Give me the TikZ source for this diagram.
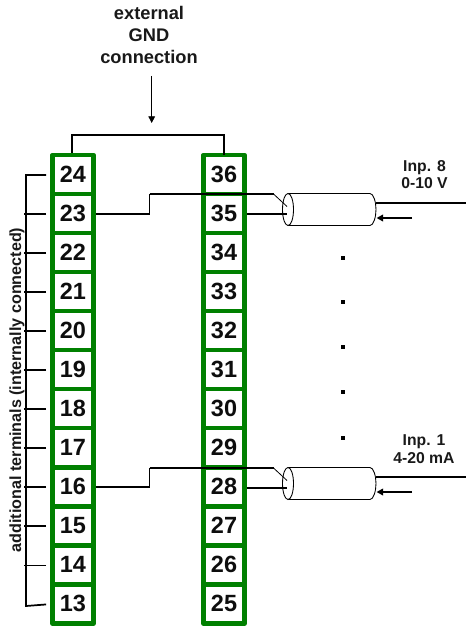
\documentclass[tikz,border=0pt]{standalone}
\usepackage{fontspec}
\setmainfont{Liberation Sans}
\usetikzlibrary{arrows.meta,calc}
\definecolor{termgreen}{HTML}{008000}
\tikzset{
  px/.style={x=0.75pt,y=-0.75pt},
  terminal/.style={draw=termgreen,line width=3.5pt,line join=round,fill=white,minimum width=30.75pt,minimum height=29.28pt,inner sep=0pt,font=\bfseries\fontsize{17.6pt}{19pt}\selectfont,text=black!95},
  wire/.style={draw=black,line width=1.3pt,line join=miter},
  thin wire/.style={draw=black,line width=0.6pt},
  shell/.style={draw=black,line width=0.65pt,fill=white},
  lbl/.style={font=\bfseries\fontsize{12.1pt}{16pt}\selectfont,text=black!90,inner sep=0pt,align=center},
  gndlbl/.style={lbl,font=\bfseries\fontsize{13.7pt}{16.8pt}\selectfont},
  inplbl/.style={lbl,font=\bfseries\fontsize{11.8pt}{13.3pt}\selectfont},
  arrowtip/.style={-{Triangle[length=5pt,width=5pt]}},
  dotmark/.style={fill=black,minimum size=3pt,inner sep=0pt,draw=none}
}
\begin{document}
\begin{tikzpicture}[px]
\useasboundingbox (0,0) rectangle (466,627);
% terminal blocks
\foreach \n [count=\i from 0] in {24,23,22,21,20,19,18,17,16,15,14,13}{
  \node[terminal] (t\n) at (73,{174.4+39.04*\i}) {\n};
}
\foreach \n [count=\i from 0] in {36,35,34,33,32,31,30,29,28,27,26,25}{
  \node[terminal] (t\n) at (224,{174.4+39.04*\i}) {\n};
}
% GND link
\coordinate (gndL) at (72,135);
\coordinate (gndR) at (224,135);
\draw[wire] (t24.north -| gndL) -- (gndL) -- (gndR) -- ($(t36.north -| gndR)+(0,2)$);
\node[gndlbl] (gndtext) at (149,35) {external\\GND\\connection};
\coordinate (gndA) at (151.7,76);
\coordinate (gndB) at (151.7,123);
\draw[thin wire,arrowtip] (gndA) -- (gndB);
% internal bus
\coordinate (busTop) at (26,175);
\coordinate (busBot) at (26,606);
\draw[wire] ($(t24.west)+(-4,0.6)$) -- (busTop) -- (busBot) -- ($(t13.west)+(-4,0.6)$);
\foreach \n in {23,22,21,20,19,18,17,16,15,14}{
  \draw[wire] ($(t\n.west)+(-4,0.6)$) -- ++(-22,0);
}
\node[lbl,rotate=90] (addtext) at (17,390) {additional terminals (internally connected)};
% cables
\foreach \term/\other/\y/\tag/\gap in {35/23/0/a/0,28/16/274/b/0}{
  \begin{scope}[yshift={-0.75pt*\y}]
    \coordinate (start\tag) at (273.5,194);
    \coordinate (inner\tag) at (287,206.5);
    \coordinate (mid\tag) at (287,214);
    \coordinate (ctop\tag) at (288,193.5);
    \coordinate (cbot\tag) at (288,225.5);
    \coordinate (rtop\tag) at (370,193.5);
    \coordinate (rbot\tag) at (370,225.5);
    \coordinate (ext\tag) at (466,203);
    \coordinate (extb\tag) at (376,203);
    \coordinate (arA\tag) at (412,218);
    \coordinate (arB\tag) at (376.5,218);
    \coordinate (step\tag) at (149.5,194);
    \path[shell] (ctop\tag) -- (rtop\tag) .. controls (373.5,193.5) and (376,202) .. (376,209.5) .. controls (376,217) and (373.5,225.5) .. (rbot\tag) -- (cbot\tag) -- cycle;
    \draw[shell] (288,209.5) ellipse [x radius=5.5, y radius=16];
    \draw[wire] (step\tag) -- (start\tag);
    \draw[thin wire] (start\tag) -- (inner\tag);
    \draw[wire] (mid\tag -| 247,0) -- (mid\tag);
    \draw[wire] (extb\tag) -- (ext\tag);
    \draw[wire,arrowtip] (arA\tag) -- (arB\tag);
  \end{scope}
}
\draw[wire] ($(t23.east)+(0,0.6)$) -- ($(t23.east -| stepa)+(0,0.6)$) -- (stepa);
\draw[wire] ($(t16.east)+(0,0.6)$) -- ($(t16.east -| stepb)+(0,0.6)$) -- (stepb);
% ellipsis dots
\node[dotmark] (d1) at (343,257.5) {};
\node[dotmark] (d2) at (343,302) {};
\node[dotmark] (d3) at (343,347) {};
\node[dotmark] (d4) at (343,392) {};
\node[dotmark] (d5) at (343,437.5) {};
% input labels
\node[inplbl] (inp8) at (424.5,174.5) {Inp. 8\\0-10 V};
\node[inplbl] (inp1) at (424,449.5) {Inp. 1\\4-20 mA};
\end{tikzpicture}
\end{document}
